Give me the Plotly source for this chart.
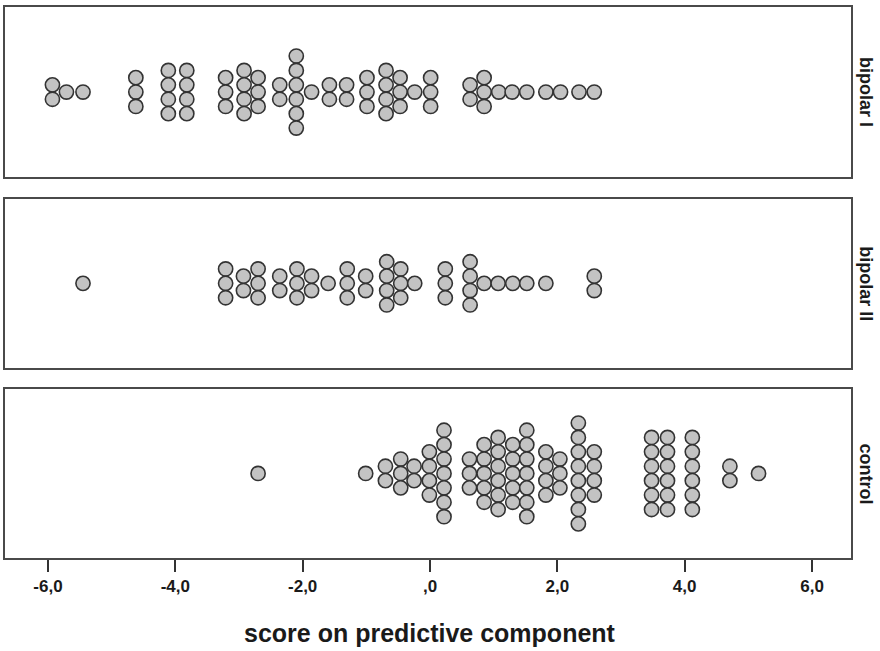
import plotly.graph_objects as go
from plotly.subplots import make_subplots

# ---- data: bin centres (score) and number of subjects stacked in each bin ----
groups = ["bipolar I", "bipolar II", "control"]

bipolar1_scores = [-5.93, -5.71, -5.45, -4.62, -4.11, -3.82, -3.21, -2.92, -2.70, -2.36,
                   -2.10, -1.86, -1.58, -1.31, -0.99, -0.69, -0.47, -0.24, 0.01, 0.63,
                   0.85, 1.08, 1.29, 1.52, 1.82, 2.05, 2.34, 2.58]
bipolar1_counts = [2, 1, 1, 3, 4, 4, 3, 4, 3, 2,
                   6, 1, 2, 2, 3, 4, 3, 1, 3, 2,
                   3, 1, 1, 1, 1, 1, 1, 1]

bipolar2_scores = [-5.45, -3.21, -2.93, -2.70, -2.36, -2.09, -1.86, -1.60, -1.30, -1.01,
                   -0.68, -0.46, -0.24, 0.24, 0.63, 0.85, 1.07, 1.30, 1.52, 1.82, 2.58]
bipolar2_counts = [1, 3, 2, 3, 2, 3, 2, 1, 3, 2,
                   4, 3, 1, 3, 4, 1, 1, 1, 1, 1, 2]

control_scores = [-2.70, -1.01, -0.70, -0.46, -0.25, -0.01, 0.22, 0.62, 0.85, 1.07,
                  1.30, 1.52, 1.82, 2.04, 2.33, 2.58, 3.48, 3.73, 4.12, 4.71, 5.16]
control_counts = [1, 1, 2, 3, 2, 4, 7, 3, 5, 6,
                  5, 7, 4, 3, 8, 4, 6, 6, 6, 2, 1]

tick_values = [-6, -4, -2, 0, 2, 4, 6]
tick_labels = ["-6,0", "-4,0", "-2,0", ",0", "2,0", "4,0", "6,0"]
x_title = "score on predictive component"

series = [(bipolar1_scores, bipolar1_counts),
          (bipolar2_scores, bipolar2_counts),
          (control_scores, control_counts)]

# ---- layout geometry (pixels) ----
W, H = 880, 651
left, right = 5, 851
top = 7.3
panels_px = [(7.3, 177.3), (199.0, 368.0), (389.0, 558.0)]  # (top, bottom)
bottom = 558.0
plot_h = bottom - top
STEP = 14.4  # vertical spacing of stacked dots (pixels)

fig = make_subplots(rows=3, cols=1, shared_xaxes=False)

FONT = "Liberation Sans, Arial, Helvetica, sans-serif"
for i, ((scores, counts), name) in enumerate(zip(series, groups), start=1):
    xs, ys = [], []
    for s, n in zip(scores, counts):
        for k in range(n):
            xs.append(s)
            ys.append(-(k - (n - 1) / 2) * STEP)
    fig.add_trace(go.Scatter(
        x=xs, y=ys, mode="markers", name=name, showlegend=False,
        marker=dict(size=14.2, color="#c3c3c3",
                    line=dict(color="#333333", width=1.6)),
        hoverinfo="x"), row=i, col=1)

    ptop, pbot = panels_px[i - 1]
    hpx = pbot - ptop
    d0 = (bottom - pbot) / plot_h
    d1 = (bottom - ptop) / plot_h
    yname = "yaxis" if i == 1 else f"yaxis{i}"
    xname = "xaxis" if i == 1 else f"xaxis{i}"
    fig.layout[yname].update(domain=[d0, d1], range=[-hpx / 2, hpx / 2],
                             showticklabels=False, ticks="", showgrid=False,
                             zeroline=False, showline=True, mirror=True,
                             linecolor="#4a4a4a", linewidth=1.8, fixedrange=True)
    last = (i == 3)
    fig.layout[xname].update(range=[(left - 430) / 63.67, (right - 430) / 63.67],
                             showgrid=False, zeroline=False, showline=True,
                             mirror=True, linecolor="#4a4a4a", linewidth=1.8,
                             tickmode="array", tickvals=tick_values,
                             ticktext=tick_labels,
                             showticklabels=last,
                             ticks="outside" if last else "",
                             ticklen=12, tickwidth=2, tickcolor="#333333",
                             tickfont=dict(family=FONT, size=17, color="#1a1a1a",
                                           weight="bold"))
    # panel label on the right, rotated
    fig.add_annotation(text=f"<b>{name}</b>", xref="paper", yref="paper",
                       x=(866 - left) / (right - left),
                       y=(d0 + d1) / 2, textangle=90, showarrow=False,
                       xanchor="center", yanchor="middle",
                       font=dict(family=FONT, size=18, color="#1a1a1a"))

fig.add_annotation(text=f"<b>{x_title}</b>", xref="paper", yref="paper",
                   x=(430 - left) / (right - left), y=(bottom - 633) / plot_h,
                   showarrow=False, xanchor="center", yanchor="middle",
                   font=dict(family=FONT, size=25, color="#1a1a1a"))

fig.update_layout(width=W, height=H, paper_bgcolor="white", plot_bgcolor="white",
                  margin=dict(l=left, r=W - right, t=top, b=H - bottom, pad=0),
                  showlegend=False)

fig.write_html("out.html", config={"displayModeBar": False},
               post_script="document.body.style.margin='0px';")
